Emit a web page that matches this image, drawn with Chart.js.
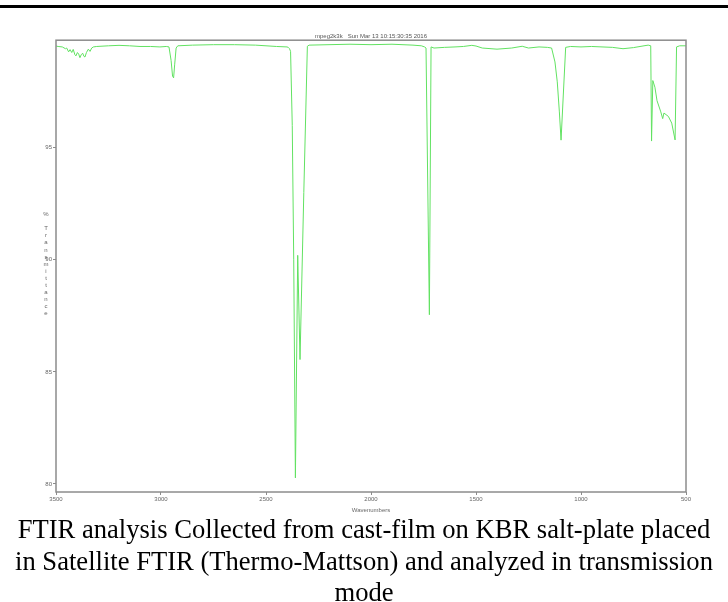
<!DOCTYPE html>
<html>
<head>
<meta charset="utf-8">
<script src="https://cdn.jsdelivr.net/npm/chart.js@4.4.0/dist/chart.umd.min.js"></script>
<style>
  html, body { margin: 0; padding: 0; background: #fff; width: 728px; height: 602px; overflow: hidden; }
  #bar { position: absolute; left: 0; top: 5px; width: 728px; height: 3px; background: #000; }
  #wrap { position: absolute; left: 0; top: 0; width: 728px; height: 520px; }
  #caption { position: absolute; left: 0; top: 514px; width: 728px; text-align: center;
    font-family: "Liberation Serif", "Times New Roman", serif; font-size: 26.6px; line-height: 31.5px;
    color: #000; white-space: nowrap; }
</style>
</head>
<body>
<div id="bar"></div>
<div id="wrap"><canvas id="c" width="728" height="520"></canvas></div>
<div id="caption">FTIR analysis Collected from cast-film on KBR salt-plate placed<br>in Satellite FTIR (Thermo-Mattson) and analyzed in transmission<br>mode</div>
<script>
// ---- data ----
const wavenumbers = [
  3500, 3490, 3470, 3455, 3449, 3440, 3433, 3425, 3418, 3410, 3405, 3398, 3392, 3386, 3380,
  3373, 3367, 3362, 3355, 3346, 3338, 3330, 3322, 3306, 3250, 3200, 3150, 3100, 3050, 3005,
  2975, 2962, 2952, 2945, 2940, 2935, 2928, 2920, 2850, 2750, 2650, 2550, 2450, 2400, 2394,
  2388, 2383, 2375, 2368, 2360, 2349, 2338, 2320, 2303, 2295, 2200, 2100, 2000, 1900, 1800,
  1760, 1745, 1738, 1722, 1714, 1700, 1650, 1600, 1560, 1520, 1500, 1470, 1400, 1330, 1280,
  1250, 1200, 1160, 1140, 1124, 1113, 1103, 1095, 1073, 1050, 1000, 950, 900, 850, 800,
  750, 700, 680, 668, 664, 658, 648, 638, 620, 611, 605, 584, 568, 552, 545, 530, 500
];
const transmittance = [
  99.54, 99.52, 99.50, 99.42, 99.45, 99.28, 99.38, 99.25, 99.39, 99.15, 99.10, 99.25, 99.18, 99.02, 99.15,
  99.22, 99.08, 99.05, 99.25, 99.40, 99.30, 99.45, 99.50, 99.52, 99.55, 99.57, 99.55, 99.52, 99.52, 99.50,
  99.52, 99.50, 98.90, 98.20, 98.12, 98.70, 99.45, 99.55, 99.58, 99.60, 99.60, 99.58, 99.52, 99.50, 99.48,
  99.42, 99.30, 96.00, 90.00, 80.27, 90.20, 85.55, 93.00, 99.53, 99.58, 99.60, 99.62, 99.60, 99.62, 99.58,
  99.55, 99.50, 99.45, 87.55, 99.50, 99.45, 99.48, 99.50, 99.52, 99.57, 99.54, 99.45, 99.40, 99.45, 99.53,
  99.45, 99.50, 99.48, 99.45, 98.83, 97.94, 96.60, 95.34, 99.48, 99.52, 99.50, 99.52, 99.50, 99.48, 99.42,
  99.47, 99.55, 99.58, 99.55, 95.30, 98.00, 97.70, 97.10, 96.60, 96.30, 96.55, 96.40, 96.10, 95.35, 99.50, 99.55, 99.55
];
const xTicks = [3500, 3000, 2500, 2000, 1500, 1000, 500];
const yTicks = [80, 85, 90, 95];
const chartTitle = "mpeg2k3k   Sun Mar 13 10:15:30:35 2016";
const xTitle = "Wavenumbers";
const yTitle = "% Transmittance";

const points = wavenumbers.map((w, i) => ({ x: w, y: transmittance[i] }));

const framePlugin = {
  id: 'frame',
  afterDraw(chart) {
    const { ctx, chartArea: a } = chart;
    ctx.save();
    ctx.strokeStyle = '#8c8c8c';
    ctx.lineWidth = 1.5;
    ctx.strokeRect(a.left, a.top, a.right - a.left, a.bottom - a.top);
    ctx.restore();
  }
};
const stackedYTitle = {
  id: 'stackedYTitle',
  afterDraw(chart) {
    const { ctx, chartArea: a } = chart;
    const step = 7.1;
    const chars = Array.from(yTitle);
    const mid = (a.top + a.bottom) / 2 - 2;
    const start = mid - (chars.length - 1) * step / 2;
    ctx.save();
    ctx.fillStyle = '#666';
    ctx.font = '6px "Liberation Sans", Arial, sans-serif';
    ctx.textAlign = 'center';
    ctx.textBaseline = 'middle';
    chars.forEach((ch, i) => ctx.fillText(ch, 46, start + i * step));
    ctx.restore();
  }
};

new Chart(document.getElementById('c'), {
  type: 'line',
  data: {
    datasets: [{
      data: points,
      borderColor: '#62e262',
      borderWidth: 1,
      pointRadius: 0,
      tension: 0,
      fill: false
    }]
  },
  options: {
    responsive: false,
    animation: false,
    layout: { padding: { left: 0, right: 42, top: 0, bottom: 0 } },
    plugins: {
      legend: { display: false },
      tooltip: { enabled: false },
      title: {
        display: true, text: chartTitle, fullSize: false, color: '#555',
        font: { size: 6, family: '"Liberation Sans", Arial, sans-serif', weight: 'normal' },
        padding: { top: 33, bottom: 0 }
      }
    },
    scales: {
      x: {
        type: 'linear', min: 500, max: 3500, reverse: true,
        afterFit: s => { s.height = 28; },
        afterBuildTicks: s => { s.ticks = xTicks.map(v => ({ value: v })); },
        grid: { display: true, drawOnChartArea: false, drawTicks: true, tickLength: 3, color: '#8c8c8c' },
        border: { display: false },
        ticks: { color: '#666', padding: 1, maxRotation: 0, autoSkip: false,
          callback: v => String(v),
          font: { size: 6, family: '"Liberation Sans", Arial, sans-serif' } },
        title: { display: true, text: xTitle, color: '#666', padding: { top: 0, bottom: 6 },
          font: { size: 6, family: '"Liberation Sans", Arial, sans-serif' } }
      },
      y: {
        type: 'linear', min: 79.64, max: 99.8,
        afterFit: s => { s.width = 56; },
        afterBuildTicks: s => { s.ticks = yTicks.map(v => ({ value: v })); },
        grid: { display: true, drawOnChartArea: false, drawTicks: true, tickLength: 3, color: '#8c8c8c' },
        border: { display: false },
        ticks: { color: '#666', padding: 1, autoSkip: false,
          callback: v => String(v),
          font: { size: 6, family: '"Liberation Sans", Arial, sans-serif' } },
        title: { display: false }
      }
    }
  },
  plugins: [framePlugin, stackedYTitle]
});
</script>
</body>
</html>
